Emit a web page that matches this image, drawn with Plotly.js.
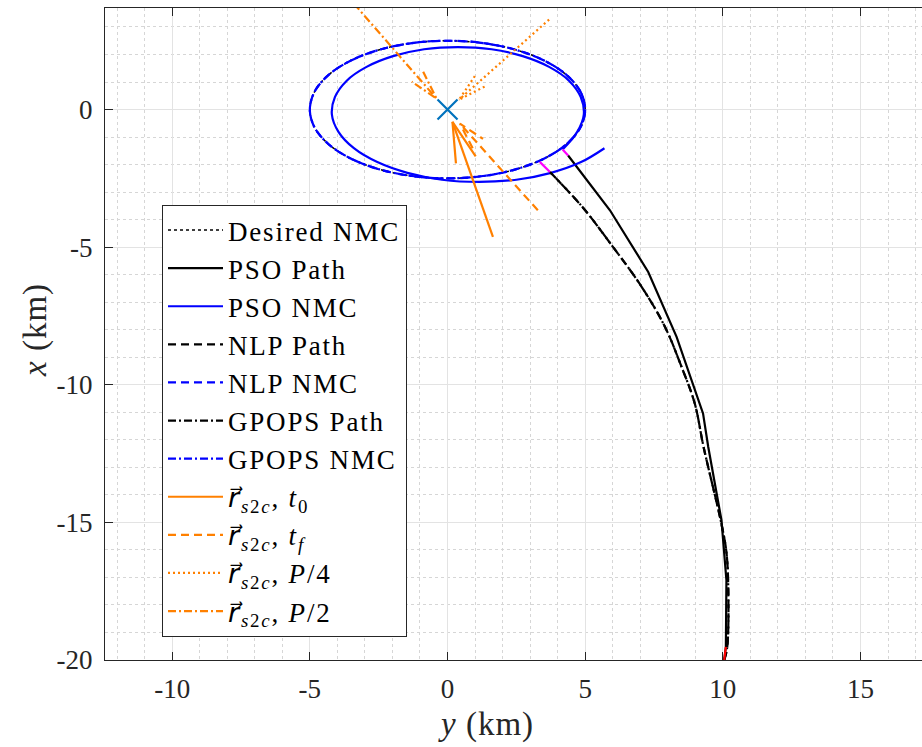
<!DOCTYPE html>
<html>
<head>
<meta charset="utf-8">
<script src="https://cdn.plot.ly/plotly-3.0.1.min.js"></script>
<style>
html,body{margin:0;padding:0;overflow:hidden;background:#fff;width:922px;height:747px;}
#chart{width:950px;height:747px;}
</style>
</head>
<body>
<div id="chart"></div>
<script>
// ---- Data (y = along-track km on horizontal axis, x = radial km on vertical axis) ----
// Desired / NLP / GPOPS natural motion circumnavigation ellipse
const nmcY = [5,4.83,4.33,3.536,2.5,1.294,0,-1.294,-2.5,-3.536,-4.33,-4.83,-5,-4.83,-4.33,-3.536,-2.5,-1.294,0,1.294,2.5,3.536,4.33,4.83,5];
const nmcX = [0,0.647,1.25,1.768,2.165,2.415,2.5,2.415,2.165,1.768,1.25,0.647,0,-0.647,-1.25,-1.768,-2.165,-2.415,-2.5,-2.415,-2.165,-1.768,-1.25,-0.647,0];

// PSO NMC (drifting ellipse)
const psoNmcY = [4.18,4.71,4.95,4.84,4.41,3.69,2.73,1.60,0.38,-0.85,-1.98,-2.94,-3.66,-4.09,-4.20,-3.96,-3.40,-2.55,-1.46,-0.20,1.15,2.50,3.76,4.85,5.70];
const psoNmcX = [-1.45,-0.81,-0.18,0.45,1.05,1.55,1.94,2.19,2.27,2.19,1.94,1.55,1.05,0.45,-0.18,-0.81,-1.405,-1.91,-2.30,-2.55,-2.63,-2.55,-2.30,-1.91,-1.405];

// PSO transfer path
const psoPathY = [10.05,10.11,10.13,9.95,9.47,9.28,8.32,7.29,5.90,4.38];
const psoPathX = [-20,-19.52,-17.1,-14.92,-12.26,-11.04,-8.26,-5.90,-3.66,-1.67];

// NLP / GPOPS transfer path
const nlpPathY = [10.05,10.16,10.19,10.12,9.92,9.30,8.98,8.50,7.90,7.05,5.92,4.90,3.72];
const nlpPathX = [-20,-19.52,-17.1,-16.0,-14.92,-12.26,-10.68,-9.35,-7.90,-6.44,-4.87,-3.54,-2.27];

// Short final segments (magenta) and initial segment (red)
const psoFinalY = [4.38,4.18], psoFinalX = [-1.67,-1.45];
const nlpFinalY = [3.72,3.35], nlpFinalX = [-2.27,-1.90];
const startSegY = [10.05,10.11], startSegX = [-20,-19.52];

// Client location
const clientY = [0], clientX = [0];

// r_s2c arrows: tail and tip (y, x)
const arrowTailY = [1.65, 3.28, 3.69, -3.40];
const arrowTailX = [-4.63, -3.66, 3.27, 3.85];
const arrowTipY  = [0.18, 0.45, 0.42, -0.40];
const arrowTipX  = [-0.45, -0.51, 0.36, 0.40];
const RVEC = '<span style="font-family:\'DejaVu Serif\', \'DejaVu Sans\', serif;"><i>r\u20D7</i></span>';
const arrowLabels = [
  RVEC + '<sub><i>s</i>2<i>c</i></sub>, <i>t</i><sub>0</sub>',
  RVEC + '<sub><i>s</i>2<i>c</i></sub>, <i>t</i><sub><i>f</i></sub>',
  RVEC + '<sub><i>s</i>2<i>c</i></sub>, <i>P</i>/4',
  RVEC + '<sub><i>s</i>2<i>c</i></sub>, <i>P</i>/2'
];
const seriesNames = ['Desired NMC','PSO Path','PSO NMC','NLP Path','NLP NMC','GPOPS Path','GPOPS NMC'];

// Axis ticks
const xTickVals = [-10,-5,0,5,10,15];
const xTickText = ['-10','-5','0','5','10','15'];
const yTickVals = [-20,-15,-10,-5,0];
const yTickText = ['-20','-15','-10','-5','0'];

// ---- Styles ----
const ORANGE = '#FF8000';
const arrowDash = ['solid','8px,5px','2px,3px','8px,3px,2px,3px'];
const headFrac = [0.33, 0.23, 0.23, 0.23];
const headBeta = 0.26;
const FONT = 'Liberation Serif, Times New Roman, serif';
const sp = s => '<span style="letter-spacing:1.8px">' + s + '</span>';

function arrowTrace(i){
  const ty = arrowTailY[i], tx = arrowTailX[i], hy = arrowTipY[i], hx = arrowTipX[i];
  const uy = hy - ty, ux = hx - tx;
  const a = headFrac[i], b = headBeta;
  const b1y = hy - a*(uy + b*ux), b1x = hx - a*(ux - b*uy);
  const b2y = hy - a*(uy - b*ux), b2x = hx - a*(ux + b*uy);
  return {
    type:'scatter', mode:'lines', name: sp(arrowLabels[i]),
    x:[ty, hy, null, b1y, hy, b2y],
    y:[tx, hx, null, b1x, hx, b2x],
    line:{color:ORANGE, width:2.2, dash:arrowDash[i]}
  };
}

const traces = [
  {type:'scatter', mode:'lines', name:sp(seriesNames[0]), x:nmcY, y:nmcX, line:{color:'#000', width:1.5, dash:'dot', shape:'spline'}},
  {type:'scatter', mode:'lines', name:sp(seriesNames[1]), x:psoPathY, y:psoPathX, line:{color:'#000', width:2.2}},
  {type:'scatter', mode:'lines', name:sp(seriesNames[2]), x:psoNmcY, y:psoNmcX, line:{color:'#0000FF', width:2.2, shape:'spline'}},
  {type:'scatter', mode:'lines', name:sp(seriesNames[3]), x:nlpPathY, y:nlpPathX, line:{color:'#000', width:2.2, dash:'8px,5px', shape:'spline'}},
  {type:'scatter', mode:'lines', name:sp(seriesNames[4]), x:nmcY, y:nmcX, line:{color:'#0000FF', width:2.2, dash:'8px,5px', shape:'spline'}},
  {type:'scatter', mode:'lines', name:sp(seriesNames[5]), x:nlpPathY, y:nlpPathX, line:{color:'#000', width:2.2, dash:'8px,3px,2px,3px', shape:'spline'}},
  {type:'scatter', mode:'lines', name:sp(seriesNames[6]), x:nmcY, y:nmcX, line:{color:'#0000FF', width:2.2, dash:'8px,3px,2px,3px', shape:'spline'}},
  arrowTrace(0), arrowTrace(1), arrowTrace(2), arrowTrace(3),
  {type:'scatter', mode:'lines', showlegend:false, x:psoFinalY, y:psoFinalX, line:{color:'#FF00FF', width:2.2}},
  {type:'scatter', mode:'lines', showlegend:false, x:nlpFinalY, y:nlpFinalX, line:{color:'#FF00FF', width:2.2}},
  {type:'scatter', mode:'lines', showlegend:false, x:startSegY, y:startSegX, line:{color:'#FF0000', width:2.2}},
  {type:'scatter', mode:'markers', showlegend:false, x:clientY, y:clientX,
   marker:{symbol:'x-thin', size:20, line:{color:'#0072BD', width:2.2}, color:'#0072BD'}}
];

const axisCommon = {
  showline:true, linecolor:'#262626', linewidth:1, mirror:'ticks',
  ticks:'inside', ticklen:8, tickcolor:'#262626', tickwidth:1,
  showgrid:true, gridcolor:'#e3e3e3', gridwidth:1, zeroline:false,
  tickfont:{family:FONT, size:27, color:'#262626'},
  tickmode:'array',
  minor:{tickmode:'linear', tick0:0, dtick:1, showgrid:true, gridcolor:'#d6d6d6', griddash:'dot', gridwidth:1, ticks:''}
};

const layout = {
  width:950, height:747,
  margin:{l:105, r:0, t:8, b:87},
  paper_bgcolor:'#fff', plot_bgcolor:'#fff',
  showlegend:true,
  xaxis:Object.assign({}, axisCommon, {range:[-12.44, 18.25], tickvals:xTickVals, ticktext:xTickText, ticklabelstandoff:5}),
  yaxis:Object.assign({}, axisCommon, {range:[-20, 3.69], tickvals:yTickVals, ticktext:yTickText, ticklabelstandoff:6}),
  legend:{
    x:(162-105)/845, y:(660-205)/652, xanchor:'left', yanchor:'top',
    bgcolor:'#fff', bordercolor:'#262626', borderwidth:1,
    font:{family:FONT, size:27, color:'#000'},
    itemwidth:55, tracegroupgap:0
  },
  annotations:[
    {xref:'paper', yref:'paper', x:(486-105)/845, y:(660-724)/652, xanchor:'center', yanchor:'middle', showarrow:false,
     text:'<span style="letter-spacing:1px"><i>y</i> (km)</span>', font:{family:FONT, size:33, color:'#262626'}},
    {xref:'paper', yref:'paper', x:(35-105)/845, y:(660-330)/652, xanchor:'center', yanchor:'middle', showarrow:false, textangle:-90,
     text:'<span style="letter-spacing:1px"><i>x</i> (km)</span>', font:{family:FONT, size:33, color:'#262626'}}
  ]
};

Plotly.newPlot('chart', traces, layout, {displayModeBar:false, staticPlot:true});
</script>
</body>
</html>
